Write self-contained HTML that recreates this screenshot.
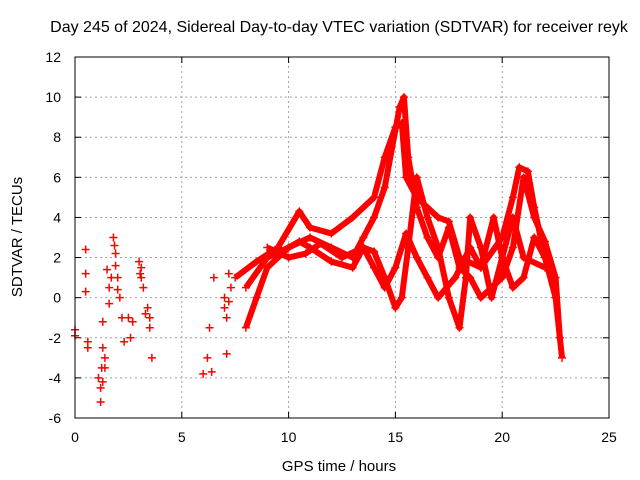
<!DOCTYPE html>
<html><head><meta charset="utf-8">
<style>
body{margin:0;background:#fff;}
svg{display:block;font-family:"Liberation Sans",sans-serif;}
</style></head>
<body>
<svg id="chart" width="640" height="480" viewBox="0 0 640 480">
<rect width="640" height="480" fill="#fff"/>
<text x="339" y="32" text-anchor="middle" font-size="16" fill="#000">Day 245 of 2024, Sidereal Day-to-day VTEC variation (SDTVAR) for receiver reyk</text>
<text x="339" y="471" text-anchor="middle" font-size="15">GPS time / hours</text>
<text transform="translate(22,237) rotate(-90)" text-anchor="middle" font-size="15">SDTVAR / TECUs</text>
<g id="grid"></g>
<g id="ticks"></g>
<g id="marks"></g>
<rect x="75" y="57" width="534" height="361" fill="none" stroke="#000" stroke-width="1"/>
</svg>
<script>
const xTicks=[0,5,10,15,20,25];
const yTicks=[-6,-4,-2,0,2,4,6,8,10,12];
const scatterT=[0,0,0.5,0.5,0.5,0.6,0.6,1.1,1.2,1.2,1.3,1.3,1.4,1.4,1.5,1.6,1.6,1.7,1.8,1.9,2.0,2.1,2.2,2.3,2.5,2.6,2.7,3.0,3.1,3.1,3.2,3.4,3.5,3.6,6.0,6.2,6.3,6.4,6.5,7.0,7.1,7.1,7.2,7.3,1.85,1.9,2.0,1.25,1.3,3.05,3.3,3.5,7.0,7.2];
const scatterV=[-1.6,-1.9,2.4,1.2,0.3,-2.2,-2.5,-4.0,-5.2,-4.5,-2.5,-1.2,-3.0,-3.5,1.4,0.5,-0.3,1.0,3.0,2.2,1.0,0.0,-1.0,-2.2,-1.0,-2.0,-1.2,1.8,1.0,1.5,0.5,-0.5,-1.5,-3.0,-3.8,-3.0,-1.5,-3.7,1.0,0.0,-1.0,-2.8,1.2,0.5,2.6,1.6,0.4,-3.5,-4.2,1.2,-0.8,-1.0,-0.5,-0.2];
const trackAT=[7.5,8.5,9.5,10.5,11,12,13,14,14.5,15,15.3,15.5,16,17,17.5,18,19,20,20.5,20.8,21.2,21.5,22,22.5,22.8];
const trackAV=[1,1.8,2.5,4.3,3.5,3.2,4,5,7,8.5,8.7,6,5,4,3.8,2,1.5,3,5,6.5,6.3,4.5,2,0,-3];
const trackBT=[8,8.5,9,10,11,12,13,13.5,14,14.5,15.2,15.4,15.6,16,16.5,17,17.5,18,18.5,19,20,20.5,21,21.5,22,22.5,22.7];
const trackBV=[-1.5,0,1.5,2.5,3,2.5,2,3,4,5.5,9.5,10,7,4.5,3,2,3.5,1.5,1,0,1,2.5,6,4,2.8,1,-2];
const trackCT=[8,9,10,10.5,11,12,13,13.5,14,14.5,15,15.3,15.6,16,16.5,17,17.5,18,18.3,18.5,19,19.5,20,20.5,21,22];
const trackCV=[0.5,2,2.5,2.8,2.5,1.8,1.5,2.5,2.3,1,-0.5,0,2.5,6,4,2.5,0,-1.5,1,4,2.5,0,2,4,2,1.5];
const trackDT=[9,10,10.8,11.5,12.5,13.5,14,14.5,15,15.5,16,16.5,17,17.8,18.5,19,19.6,20,20.5,21,21.5,22];
const trackDV=[2.5,2,2.2,2.7,2,2.5,1.5,0.5,1.5,3.2,2,1,0,1,2.5,1.5,4,2,0.5,1,3,2];
const tracks=[[trackAT,trackAV],[trackBT,trackBV],[trackCT,trackCV],[trackDT,trackDV]];

const X0=75,X1=609,Y0=418,Y1=57;
const xs=t=>X0+(t-0)/(25-0)*(X1-X0);
const ys=v=>Y0-(v+6)/(12+6)*(Y0-Y1);
const NS="http://www.w3.org/2000/svg";
function mk(tag,attrs,parent){const e=document.createElementNS(NS,tag);for(const k in attrs)e.setAttribute(k,attrs[k]);parent.appendChild(e);return e;}
const grid=document.getElementById('grid'),ticks=document.getElementById('ticks'),marks=document.getElementById('marks');
xTicks.forEach(t=>{
  const x=xs(t);
  if(t>0&&t<25){const g=mk('line',{x1:x,x2:x,y1:Y0,y2:Y1,stroke:'#a0a0a0','stroke-dasharray':'2,3','stroke-width':1},grid);
  
  }
  mk('line',{x1:x,x2:x,y1:Y0,y2:Y0-6,stroke:'#000'},ticks);
  mk('line',{x1:x,x2:x,y1:Y1,y2:Y1+6,stroke:'#000'},ticks);
  const l=mk('text',{x:x,y:Y0+24,'text-anchor':'middle','font-size':14},ticks);l.textContent=t;
  
  
});
yTicks.forEach(v=>{
  const y=ys(v);
  if(v>-6&&v<12){const g=mk('line',{x1:X0,x2:X1,y1:y,y2:y,stroke:'#a0a0a0','stroke-dasharray':'2,3','stroke-width':1},grid);
  
  }
  mk('line',{x1:X0,x2:X0+6,y1:y,y2:y,stroke:'#000'},ticks);
  mk('line',{x1:X1,x2:X1-6,y1:y,y2:y,stroke:'#000'},ticks);
  const l=mk('text',{x:X0-14,y:y+5,'text-anchor':'end','font-size':14},ticks);l.textContent=v;
  
  
});
function plus(t,v){
  const x=xs(t),y=ys(v);
  const p=mk('path',{d:`M${x-4},${y}H${x+4}M${x},${y-4}V${y+4}`,stroke:'#f00','stroke-width':1.5},marks);
  
  
}
tracks.forEach(([T,V],i)=>{
  const pl=mk('polyline',{points:T.map((t,j)=>xs(t)+','+ys(V[j])).join(' '),fill:'none',stroke:'#f00','stroke-width':6,'stroke-linejoin':'round'},marks);
  
  
  T.forEach((t,j)=>plus(t,V[j]));
});
scatterT.forEach((t,j)=>plus(t,scatterV[j]));
</script>
</body></html>
